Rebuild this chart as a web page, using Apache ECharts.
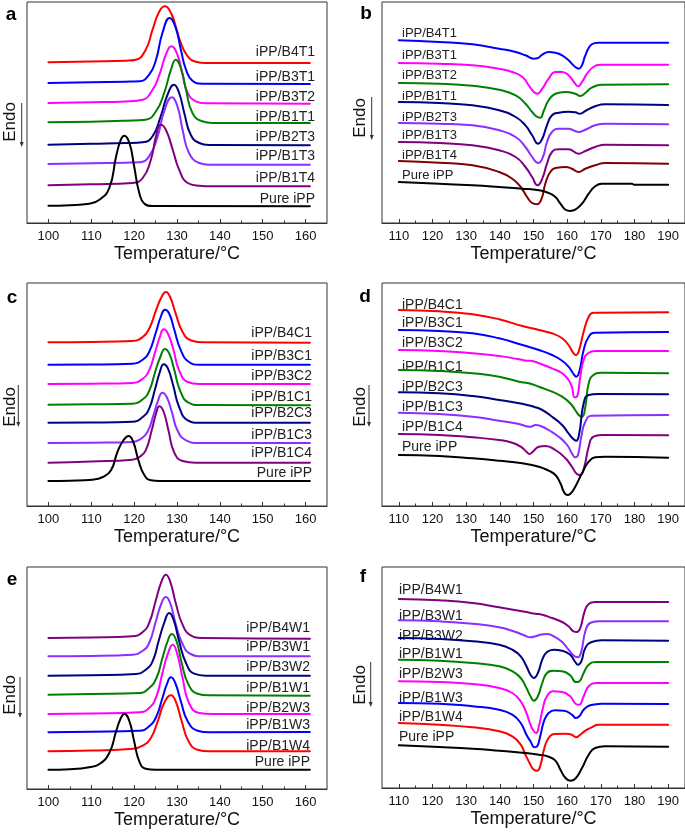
<!DOCTYPE html>
<html><head><meta charset="utf-8">
<script src="https://cdn.jsdelivr.net/npm/echarts@6/dist/echarts.min.js"></script>
<style>html,body{margin:0;padding:0;background:#fff}#c{width:685px;height:832px}</style>
</head><body><div id="c"></div>
<script>
// ---------- DATA (heat flow, arbitrary units, curves offset vertically) ----------
// Panel a : crystallization, T series
const a_names = ["iPP/B4T1","iPP/B3T1","iPP/B3T2","iPP/B1T1","iPP/B2T3","iPP/B1T3","iPP/B1T4","Pure iPP"];
const a_B4T1 = [[100,160.7],[110,161.5],[118,162.3],[120.4,163.3],[122.7,173.3],[124.3,193.3],[125.9,211.7],[127.2,216.7],[128.6,210],[129.7,196.7],[130.9,180],[132.5,166.7],[134.4,161.3],[136.7,160],[161,160]];
const a_B3T1 = [[100,140],[110,140.7],[118,141.3],[121.2,141.7],[123.5,148.3],[125.1,163.3],[126.6,190],[128.3,205],[129.7,195],[130.9,173.3],[132.1,153.3],[133.6,142.3],[135.9,139.3],[161,139]];
const a_B3T2 = [[100,120],[110,120.7],[118,121.5],[122,123.3],[124.3,133.3],[125.9,148.3],[127.4,168.3],[128.7,176.7],[130.1,168.3],[131.3,148.3],[132.5,130],[134.4,121.7],[136.7,119.7],[161,119.3]];
const a_B1T1 = [[100,100.7],[110,101.3],[118,102.3],[122.7,103.3],[125.1,111.7],[127,130],[128.6,153.3],[129.7,163.3],[130.9,155],[132.1,133.3],[133.6,110],[135.9,101.7],[138.3,100],[161,100]];
const a_B2T3 = [[100,78.3],[110,79.3],[118,80],[122,80.7],[124.3,86.7],[126.2,106.7],[127.8,128.3],[129.3,138.3],[130.5,130],[131.7,110],[133.2,88.3],[135.2,80],[137.5,78],[161,77.7]];
const a_B1T3 = [[100,59],[110,59.7],[118,60.3],[121.2,60.7],[123.5,66.7],[125.5,86.7],[127,111.7],[128.8,125.7],[130.1,116.7],[131.3,93.3],[132.8,70],[135.2,60],[137.5,58.3],[161,58.3]];
const a_B1T4 = [[100,37.7],[110,38.7],[119.6,40],[122,45],[123.9,63.3],[125.1,86.7],[126.2,98.3],[127.4,93.3],[129,73.3],[130.5,53.3],[132.5,40],[135.2,37.3],[138.3,36.7],[161,36.7]];
const a_Pure = [[100,17.3],[105,17.8],[109.5,19.3],[111.9,23.3],[114.2,35],[115.8,66.7],[116.9,83.3],[117.7,87.3],[118.9,80],[120,56.7],[121.2,30],[122.4,19.3],[124.3,17],[161,16.7]];

// Panel b : melting, T series
const b_names = ["iPP/B4T1","iPP/B3T1","iPP/B3T2","iPP/B1T1","iPP/B2T3","iPP/B1T3","iPP/B1T4","Pure iPP"];
const b_B4T1_T = [110,122,131.9,139.8,144.7,147.6,150.1,151.1,152.6,154.5,156.5,158.5,160.4,162.4,163.4,164.4,165.4,167.3,169.3,190];
const b_B4T1_V = [182.7,181,178.7,174.3,171,167.7,164.3,164.7,168.3,171,170.3,167.7,162.7,156,154.3,157.7,167.7,178.7,180.3,180.3];
const b_B3T1_T = [110,122,131.9,139.8,143.7,146.7,148.6,150.1,151.1,152.6,154.5,156.5,158.5,160.4,162.4,163.2,164.4,165.9,167.8,170.3,190];
const b_B3T1_V = [160,159.3,157.7,154.3,151,146,137.7,131,129.3,134.3,144.3,151,151,147.7,139.3,136.7,141,149.3,156,158.3,158.3];
const b_B3T2_T = [110,122,131.9,139.8,144.7,147.6,149.6,150.8,152,153.1,154.5,156.5,159.5,162.4,163.9,165.4,167.3,170.3,190];
const b_B3T2_V = [140,139.3,137.3,133.3,127.7,119.3,111,106.7,105.3,112.7,122.7,129.3,131,129.3,127,130,135.3,138.3,138.7];
const b_B1T1_T = [110,122,131.9,139.8,144.7,147.6,149.6,151.4,152.6,154,155.5,157.5,160.4,162.4,163.8,165.4,168.3,171.3,190];
const b_B1T1_V = [121,120,117.7,112.7,106,97.7,87.7,79.3,84.3,97.7,107.7,110.3,111.3,110.7,109.3,112,116.7,118.7,118];
const b_B2T3_T = [110,122,131.9,139.8,144.7,147.6,149.6,151.4,152.8,154,155.5,157.5,160.4,163.4,165.4,168.3,171.3,190];
const b_B2T3_V = [100,99.3,97.7,92.7,86,76,66,60,66,81,91,94.3,94.3,91,93.3,97.7,99.3,98.7];
const b_B1T3_T = [110,122,131.9,139.8,144.7,147.6,149.6,151.2,152.6,154,155.5,157.5,160.4,163.4,165.4,168.3,171.3,190];
const b_B1T3_V = [81,80,77.7,72.7,66,56,46,37.7,44.3,59.3,71,73.7,73.7,69.3,72,76,78.3,77.7];
const b_B1T4_T = [110,122,131.9,139.8,143.7,146.2,148.1,149.6,151,152.4,153.5,155,157,159.5,161.4,163.4,165.4,168.3,171.3,190];
const b_B1T4_V = [62,60.3,57.7,51,44.3,36,26,20,18.7,24.3,39.3,51,55.3,56,54.3,51,54.3,57.7,60,59.3];
const b_Pure_T = [110,122,131.9,139.8,146.7,151.6,154.5,156.5,158,159.5,160.9,162.4,164.4,166.4,168.3,170.3,179.2,179.8,190];
const b_Pure_V = [41,39.3,37.7,36,34.3,32.7,30,26,19.3,13.3,12,13.3,19.3,29.3,36.7,39.3,39.3,38.3,38.3];

// Panel c : crystallization, C series
const c_names = ["iPP/B4C1","iPP/B3C1","iPP/B3C2","iPP/B1C1","iPP/B2C3","iPP/B1C3","iPP/B1C4","Pure iPP"];
const c_B4C1 = [[100,163.7],[110,164],[119.6,165],[122,169],[123.5,177.3],[125.1,195.7],[126.4,209],[127.4,214],[128.4,209],[129.7,192.3],[131.3,174],[133.2,165.7],[135.9,163.7],[161,163.3]];
const c_B3C1 = [[100,141.3],[110,141.5],[119.6,142.3],[122,146.3],[123.5,154],[125.1,174],[126.2,189],[127.2,196.3],[128.2,192.3],[129.3,177.3],[130.9,155.7],[132.8,144],[135.2,141.3],[161,141.3]];
const c_B3C2 = [[100,122],[110,122.3],[119.6,123],[122,127.3],[123.5,135.7],[124.9,154],[126,169],[126.9,176.7],[127.9,172.3],[129.1,157.3],[130.5,135.7],[132.5,124],[135.2,122],[161,122]];
const c_B1C1 = [[100,101.3],[110,101.7],[119.6,102.3],[122,106.7],[123.5,115],[124.9,134],[126.1,149],[127.2,157],[128.2,152.3],[129.3,137.3],[130.7,115.7],[132.7,103.3],[135.2,101],[161,100.7]];
const c_B2C3 = [[100,83.3],[110,83.5],[119.6,84.3],[122,89],[123.5,97.3],[124.9,117.3],[126,134],[126.9,141.7],[127.9,137.3],[129.1,120.7],[130.5,99],[132.5,85.7],[135.2,83.3],[161,83.3]];
const c_B1C3 = [[100,63],[110,63.3],[119.6,64],[121.6,67.3],[123.1,74],[124.5,90.7],[125.6,105.7],[126.6,113.3],[127.6,109],[128.8,94],[130.1,75.7],[132.1,65.7],[135.2,63],[161,63]];
const c_B1C4 = [[100,43.3],[110,44.5],[119.6,46.3],[121.2,49],[122.7,55.7],[124.1,75.7],[125.1,92.3],[125.9,99.7],[126.9,94],[128,75.7],[129.3,54],[131.3,45],[134.4,43.3],[161,43.3]];
const c_Pure = [[100,25],[105,25.3],[110.3,26.3],[112.7,29],[114.6,35.7],[116.1,54],[117.5,65.7],[118.7,70],[119.8,64],[121,45.7],[122.4,30.7],[123.9,25.7],[125.9,25],[161,25]];

// Panel d : melting, C series
const d_names = ["iPP/B4C1","iPP/B3C1","iPP/B3C2","iPP/B1C1","iPP/B2C3","iPP/B1C3","iPP/B1C4","Pure iPP"];
const d_B4C1_T = [110,122,131.9,139.8,146.7,151.6,155.5,158.5,160.4,161.9,162.6,163.4,164.9,166.4,167.8,190];
const d_B4C1_V = [196,194.7,191.7,186.7,180,176,172.7,167.7,161,152.7,151,154.3,174.3,189.3,193.3,193.7];
const d_B3C1_T = [110,122,131.9,139.8,146.7,151.6,155.5,158.5,160.4,161.9,162.7,163.6,164.9,166.4,168.3,190];
const d_B3C1_V = [176,175,172.7,167.7,161,156,151,145.3,139.3,132,129.3,134.3,156,169.3,173.3,174];
const d_B3C2_T = [110,122,131.9,139.8,145.7,148.1,149.6,151.6,155.5,158.5,160.4,161.4,162.2,162.9,163.9,164.9,166.4,168.3,190];
const d_B3C2_V = [156,155,152.7,150,146.7,145.3,145,142.7,137.7,132.7,126,119.3,108.7,109.3,129.3,146,153.3,155,155];
const d_B1C1_T = [110,122,131.9,139.8,145.7,148.6,151.6,155.5,158.5,160.9,162.4,163.4,164.4,165.4,166.4,167.8,170.3,190];
const d_B1C1_V = [136,135,132.7,129.3,124.3,122.7,119.3,114.3,109.3,102.7,96,91,89.3,99.3,122.7,131,133.3,132.7];
const d_B2C3_T = [110,122,131.9,139.8,145.7,148.1,150.1,152.6,155.5,158.5,160.4,161.9,162.7,163.6,164.9,166.4,169.3,190];
const d_B2C3_V = [113.7,112.7,110,106,102.7,101,99.3,96,89.3,81,72.7,66.7,65.3,72.7,102.7,111,112,111.7];
const d_B1C3_T = [110,122,131.9,139.8,145.7,147.6,149.1,150.6,152.1,154.5,157.5,160,161.4,162.4,163.2,164.2,165.4,167.3,190];
const d_B1C3_V = [93.3,92,89.3,85.3,82,80,79.3,81,80,76,69.3,61,52.7,48.7,51,69.3,84.3,90.3,91];
const d_B1C4_T = [110,122,131.9,139.8,143.7,146.2,147.9,148.8,149.8,151.6,153.5,156.5,159.5,161.4,162.9,163.9,165.1,166.4,167.8,170.3,190];
const d_B1C4_V = [72,71,68.7,66,63.3,59.3,54.3,52,54.3,59.3,60,56,47.7,39.3,32,31,39.3,59.3,69.3,71,70.7];
const d_Pure_T = [110,122,131.9,139.8,146.7,151.6,154.5,156.5,158,159,160,160.9,162.4,164.4,166.4,168.3,171.3,190];
const d_Pure_V = [51,50,47.7,45.3,42.7,39.3,35.3,31,22.7,14.3,11,12,19.3,32.7,44.3,48.7,49.3,48.3];

// Panel e : crystallization, W series
const e_names = ["iPP/B4W1","iPP/B3W1","iPP/B3W2","iPP/B1W1","iPP/B2W3","iPP/B1W3","iPP/B1W4","Pure iPP"];
const e_B4W1 = [[100,151],[110,151.5],[119.6,152.7],[122,157],[123.5,166],[125.1,189.3],[126.4,207.7],[127.4,214.3],[128.4,207.7],[129.7,186],[131.3,164.3],[133.2,153.7],[135.9,151],[161,150.3]];
const e_B3W1 = [[100,132.7],[110,133],[119.6,134.3],[122,138.3],[123.5,146],[125.1,168.3],[126.4,186],[127.4,192],[128.4,186],[129.7,165],[131.3,145],[133.2,135],[135.9,132.7],[161,132.7]];
const e_B3W2 = [[100,113.3],[110,113.8],[120.4,115],[122.7,119.3],[124.3,127.7],[125.7,147.7],[127,166],[128.2,176],[129.2,169.3],[130.5,147.7],[132.1,126],[134,115.3],[136.7,113.3],[161,113.3]];
const e_B1W1 = [[100,94.3],[110,95],[121.2,96],[123.5,101],[125.2,111],[126.6,131],[127.8,147.7],[128.8,155],[129.9,147.7],[131.1,126],[132.7,104.3],[134.8,95.3],[137.5,93.7],[161,93.3]];
const e_B2W3 = [[100,75],[110,75.5],[121.2,76.7],[123.5,81],[125.2,92.7],[126.6,116],[127.8,134.3],[129,144.3],[130.1,134.3],[131.3,111],[132.8,86],[135.2,76],[138.3,75],[161,75]];
const e_B1W3 = [[100,56.7],[110,57.2],[121.2,58.3],[123.5,62.7],[125.2,72.7],[126.6,91],[127.6,104.3],[128.6,111.7],[129.6,106],[130.9,87.7],[132.5,67.7],[134.8,58.3],[137.5,56.7],[161,57]];
const e_B1W4 = [[100,37.7],[110,38.5],[119.6,40.3],[122,43.3],[123.9,51],[125.5,67.7],[127,86],[128.6,93.7],[129.7,87.7],[131.1,67.7],[132.7,47.7],[134.8,39.3],[137.5,37.7],[161,37.7]];
const e_Pure = [[100,19.3],[105,19.8],[109.5,21.7],[111.9,25],[114.2,36],[115.8,57.7],[116.9,71],[117.7,75],[118.9,67.7],[120,47.7],[121.2,27.7],[122.7,20.3],[125,19.3],[161,19.3]];

// Panel f : melting, W series
const f_names = ["iPP/B4W1","iPP/B3W1","iPP/B3W2","iPP/B1W1","iPP/B2W3","iPP/B1W3","iPP/B1W4","Pure iPP"];
const f_B4W1_T = [110,122,131.9,139.8,145.7,149.1,150.6,152.6,155.5,158.5,160.4,161.9,162.9,163.9,165.2,166.4,168.3,190];
const f_B4W1_V = [189,187.7,185,180.7,177.3,175,174.3,173.3,170,166,161.7,156.7,156,160,176.7,184,186,186];
const f_B3W1_T = [110,122,131.9,139.8,144.7,147.2,149.1,150.6,152.1,154,156,158.5,160.4,162.2,163.2,164.2,165.4,166.8,169.3,190];
const f_B3W1_V = [167.7,166.7,164.3,160.7,156,152.7,150.7,151.7,153.3,154,151.7,146,138.3,131.7,130.7,136.7,156.7,165,166.7,166.7];
const f_B3W2_T = [110,122,131.9,139.8,143.7,146.2,147.9,149.1,150.1,151.3,152.6,154,156,158.5,160.9,162.4,163.2,164.2,165.4,167.3,170.3,190];
const f_B3W2_V = [150,149,146.7,143.3,138.3,131.7,121.7,113.3,110,115,128.3,136,138.3,137.3,133.3,126,123.3,126.7,140,146,147.7,147.3];
const f_B1W1_T = [110,122,131.9,139.8,143.7,146.2,147.9,149.1,150.1,151.3,152.6,154,156,158.5,160.9,162.6,163.6,164.9,166.4,168.8,190];
const f_B1W1_V = [128.3,127.3,125,121.7,116.7,110,100,91.7,87.3,91.7,105,115,117.3,116.7,112.7,106,106.7,115,123.3,126,126];
const f_B2W3_T = [110,122,131.9,139.8,143.7,146.2,147.9,149.1,150.1,150.8,151.6,152.8,154,156,158.5,160.9,162.6,163.6,164.9,166.4,168.8,190];
const f_B2W3_V = [106.7,106,104,100,95,86.7,75,63.3,56.7,55,61.7,80,91.7,96.7,96,91.7,84,83.3,91.7,101.7,105,105];
const f_B1W3_T = [110,122,131.9,139.8,143.7,146.2,147.9,149.1,150.3,151.1,152.1,153.1,154.5,156.5,159,161.4,162.6,163.6,164.9,166.8,170.3,190];
const f_B1W3_V = [85,84.3,81.7,78.3,73.3,65,53.3,46.7,40.7,41.7,53.3,66.7,75,77.7,77.3,73.3,70,71.7,78.3,82.7,84.3,84];
const f_B1W4_T = [110,122,131.9,139.8,143.7,146.2,147.6,149.1,150.1,151.1,152.1,153.1,154.5,156.5,159.5,161.4,162.6,163.9,165.4,167.3,169.3,190];
const f_B1W4_V = [65,63.3,60.7,56.7,51.7,43.3,33.3,23.3,18.3,17.3,23.3,38.3,50,54,54.3,53.3,50.7,53.3,57.3,60.7,63.3,63.3];
const f_Pure_T = [110,122,131.9,139.8,146.7,151.6,154.5,156.5,158,159.5,160.9,162.4,164.4,166.4,168.3,171.3,190];
const f_Pure_V = [42.7,41,39.3,37.3,35.3,33.3,31.3,27.3,18.3,10,7.3,9.3,20,33.3,40,41.7,41.3];

// Tick labels
const ticksCryst = [100,110,120,130,140,150,160];
const minorCryst = [105,115,125,135,145,155];
const ticksMelt = [110,120,130,140,150,160,170,180,190];
const minorMelt = [115,125,135,145,155,165,175,185];

// ---------- BUILD ----------
const zip = (T, V) => T.map((t, i) => [t, V[i]]);
const colorsCT = ['#ff0000','#0000ff','#ff00ff','#008000','#000080','#8a2fff','#800080','#000000'];
const colorsBT = ['#0000ff','#ff00ff','#008000','#000080','#8a2fff','#800080','#800000','#000000'];
const colorsW  = ['#800080','#8a2fff','#000080','#008000','#ff00ff','#0000ff','#ff0000','#000000'];

const panels = [
  {id:'a', names:a_names, colors:colorsCT, data:[a_B4T1,a_B3T1,a_B3T2,a_B1T1,a_B2T3,a_B1T3,a_B1T4,a_Pure], min:95, max:165, ticks:ticksCryst, minor:minorCryst,
   grid:{left:27,top:2,width:300,height:221}, ymax:221},
  {id:'b', names:b_names, colors:colorsBT, data:[zip(b_B4T1_T,b_B4T1_V),zip(b_B3T1_T,b_B3T1_V),zip(b_B3T2_T,b_B3T2_V),zip(b_B1T1_T,b_B1T1_V),zip(b_B2T3_T,b_B2T3_V),zip(b_B1T3_T,b_B1T3_V),zip(b_B1T4_T,b_B1T4_V),zip(b_Pure_T,b_Pure_V)], min:105, max:195, ticks:ticksMelt, minor:minorMelt,
   grid:{left:382,top:2,width:305,height:221}, ymax:221},
  {id:'c', names:c_names, colors:colorsCT, data:[c_B4C1,c_B3C1,c_B3C2,c_B1C1,c_B2C3,c_B1C3,c_B1C4,c_Pure], min:95, max:165, ticks:ticksCryst, minor:minorCryst,
   grid:{left:27,top:283,width:300,height:223}, ymax:223},
  {id:'d', names:d_names, colors:colorsCT, data:[zip(d_B4C1_T,d_B4C1_V),zip(d_B3C1_T,d_B3C1_V),zip(d_B3C2_T,d_B3C2_V),zip(d_B1C1_T,d_B1C1_V),zip(d_B2C3_T,d_B2C3_V),zip(d_B1C3_T,d_B1C3_V),zip(d_B1C4_T,d_B1C4_V),zip(d_Pure_T,d_Pure_V)], min:105, max:195, ticks:ticksMelt, minor:minorMelt,
   grid:{left:382,top:283,width:305,height:223}, ymax:223},
  {id:'e', names:e_names, colors:colorsW, data:[e_B4W1,e_B3W1,e_B3W2,e_B1W1,e_B2W3,e_B1W3,e_B1W4,e_Pure], min:95, max:165, ticks:ticksCryst, minor:minorCryst,
   grid:{left:27,top:567,width:300,height:222}, ymax:222},
  {id:'f', names:f_names, colors:colorsW, data:[zip(f_B4W1_T,f_B4W1_V),zip(f_B3W1_T,f_B3W1_V),zip(f_B3W2_T,f_B3W2_V),zip(f_B1W1_T,f_B1W1_V),zip(f_B2W3_T,f_B2W3_V),zip(f_B1W3_T,f_B1W3_V),zip(f_B1W4_T,f_B1W4_V),zip(f_Pure_T,f_Pure_V)], min:105, max:195, ticks:ticksMelt, minor:minorMelt,
   grid:{left:382,top:567,width:305,height:221}, ymax:221}
];

// layout: label anchors (pixels)
const labelLayout = {
  a:{x:315, align:'right', ys:[52,77,97,117,137,156,178,199], fs:14},
  b:{x:402, align:'left', ys:[33,55,75,96,117,135,155,175], fs:13},
  c:{x:312, align:'right', ys:[333,356,376,397,413,435,453,473], fs:14},
  d:{x:402, align:'left', ys:[305,323,343,367,387,407,427,447], fs:14},
  e:{x:310, align:'right', ys:[628,647,667,688,708,725,746,762], fs:14},
  f:{x:399, align:'left', ys:[590,616,636,654,674,698,717,737], fs:14}
};
const letterPos = {a:[11,15], b:[366,14], c:[12,298], d:[365,297], e:[12,580], f:[363,577]};
const endoPos = {a:[10,122,21.7,103,147], b:[360,118,371.7,97,140], c:[10,407,18.3,385,427], d:[360,407,369,385,427], e:[10,695,20,677,718], f:[360,685,370.7,662,707]};

const FONT = 'Liberation Sans, Arial, Helvetica, sans-serif';
const grids = [], xAxes = [], yAxes = [], series = [], graphics = [];
panels.forEach((p, i) => {
  grids.push(Object.assign({show:true, borderColor:'#333', borderWidth:1, backgroundColor:'rgba(0,0,0,0)'}, p.grid));
  xAxes.push({gridIndex:i, type:'value', min:p.min, max:p.max, position:'bottom',
    axisLine:{show:true, onZero:false, lineStyle:{color:'#333', width:1}},
    axisTick:{show:true, inside:true, length:4, customValues:p.ticks, lineStyle:{color:'#333'}},
    axisLabel:{show:true, customValues:p.ticks, fontSize:13, color:'#111', margin:7, fontFamily:FONT},
    splitLine:{show:false},
    name:'Temperature/°C', nameLocation:'middle', nameGap:22,
    nameTextStyle:{fontSize:18, color:'#111', fontFamily:FONT}});
  xAxes.push({gridIndex:i, type:'value', min:p.min, max:p.max, position:'bottom',
    axisLine:{show:false}, axisLabel:{show:false}, splitLine:{show:false},
    axisTick:{show:true, inside:true, length:2.5, customValues:p.minor, lineStyle:{color:'#333'}}});
  yAxes.push({gridIndex:i, type:'value', min:0, max:p.ymax, show:false});
  p.data.forEach((d, k) => {
    series.push({type:'line', name:p.id + p.names[k], xAxisIndex:2*i, yAxisIndex:i, data:d,
      smooth:0.5, showSymbol:false, symbol:'none', silent:true,
      lineStyle:{color:p.colors[k], width:2, join:'round', cap:'round'}, itemStyle:{color:p.colors[k]}});
  });
  const L = labelLayout[p.id];
  p.names.forEach((n, k) => {
    graphics.push({type:'text', x:L.x, y:L.ys[k], style:{text:n, fill:'#222', font:L.fs + 'px ' + FONT, textAlign:L.align, textVerticalAlign:'middle'}});
  });
  const lp = letterPos[p.id];
  graphics.push({type:'text', x:lp[0], y:lp[1], style:{text:p.id, fill:'#000', font:'bold 19px ' + FONT, textAlign:'center', textVerticalAlign:'middle'}});
  const ep = endoPos[p.id];
  graphics.push({type:'text', x:ep[0], y:ep[1], rotation:Math.PI/2, style:{text:'Endo', fill:'#111', font:'17px ' + FONT, textAlign:'center', textVerticalAlign:'middle'}});
  graphics.push({type:'line', shape:{x1:ep[2], y1:ep[3], x2:ep[2], y2:ep[4]-4}, style:{stroke:'#333', lineWidth:1}});
  graphics.push({type:'polygon', shape:{points:[[ep[2]-2, ep[4]-5],[ep[2]+2, ep[4]-5],[ep[2], ep[4]]]}, style:{fill:'#333'}});
});

const chart = echarts.init(document.getElementById('c'), null, {renderer:'canvas'});
chart.setOption({animation:false, backgroundColor:'#fff', grid:grids, xAxis:xAxes, yAxis:yAxes, series:series, graphic:graphics});
</script></body></html>
